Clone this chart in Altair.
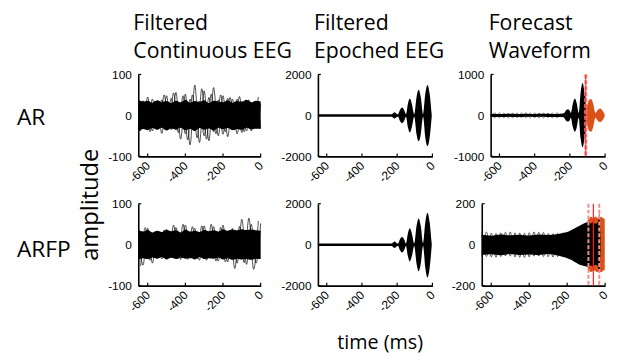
import altair as alt
import pandas as pd

# ---------------- data ----------------
COL_TITLES = [["Filtered", "Continuous EEG"], ["Filtered", "Epoched EEG"], ["Forecast", "Waveform"]]
ROW_LABELS = ["AR", "ARFP"]
Y_LABEL = "amplitude"
X_LABEL = "time (ms)"

X_TICKS = [-600, -400, -200, 0]
Y_TICKS = {"p11": [-100, 0, 100], "p12": [-2000, 0, 2000], "p13": [-1000, 0, 1000],
           "p21": [-100, 0, 100], "p22": [-2000, 0, 2000], "p23": [-200, 0, 200]}

T_CONT = [-650, -625, -600, -575, -550, -525, -500, -475, -450, -425, -400, -375, -350, -325,
          -300, -275, -250, -225, -200, -175, -150, -125, -100, -75, -50, -25, 0]
T_HALF = [-637.5, -612.5, -587.5, -562.5, -537.5, -512.5, -487.5, -462.5, -437.5, -412.5,
          -387.5, -362.5, -337.5, -312.5, -287.5, -262.5, -237.5, -212.5, -187.5, -162.5,
          -137.5, -112.5, -87.5, -62.5, -37.5, -12.5]

# AR continuous: dense band + outlier traces
AR_CONT_UP = [38, 34, 36, 31, 37, 33, 35, 30, 36, 32, 38, 31, 35, 33, 37, 30, 36, 34, 32, 37, 31, 35, 33, 38, 32, 36, 34]
AR_CONT_LO = [-40, -33, -36, -31, -35, -30, -37, -32, -34, -30, -36, -33, -38, -31, -35, -32, -37, -30, -34, -31, -36, -33, -35, -30, -34, -32, -33]
AR_TRACE_A = [22, -28, 45, -38, 30, -44, 48, -35, 56, -58, 52, -72, 74, -66, 60, -62, 68, -50, 48, -52, 40, -45, 35, -38, 30, -33, 28]
AR_TRACE_B = [-38, 30, -40, 35, -26, 50, -30, 55, -42, 48, -60, 50, -55, 65, -58, 52, -45, 50, -40, 44, -36, 46, -40, 38, -30, 45]
AR_TRACE_C = [-30, 36, -25, 40, -34, 38, -28, 42, -36, 30, -45, 40, -38, 35, -50, 44, -40, 38, -46, 42, -35, 40, -42, 36, -38, 33, -30]

# ARFP continuous
FP_CONT_UP = [35, 32, 36, 30, 34, 31, 36, 33, 35, 30, 37, 32, 34, 31, 36, 33, 35, 32, 38, 34, 37, 35, 38, 36, 37, 35, 34]
FP_CONT_LO = [-36, -33, -35, -31, -34, -30, -36, -32, -35, -31, -34, -32, -36, -30, -35, -33, -34, -31, -36, -33, -37, -34, -36, -35, -37, -34, -35]
FP_TRACE_D = [48, -50, 40, -45, 30, -35, 38, -30, 42, -36, 48, -34, 40, -38, 46, -32, 44, -40, 48, -42, 40, -45, 62, -48, 50, -45, 52]
FP_TRACE_E = [-52, 42, -38, 30, -32, 36, -30, 48, -34, 50, -36, 44, -35, 46, -38, 50, -40, 42, -42, 36, -58, 45, -44, 65, -60, 58]

# Epoched EEG envelopes (wave packets)
T_EPO = [-650, -230, -222, -215, -208, -200, -195, -184, -172, -161, -150, -139, -128, -117,
         -103, -90, -78, -66, -53, -40, -28, -16, -4]
AR_EPO_UP = [60, 60, 120, 160, 120, 60, 60, 270, 380, 270, 60, 570, 820, 570, 60, 900, 1250, 900, 60, 1080, 1480, 1080, 60]
AR_EPO_LO = [-60, -60, -120, -160, -120, -60, -60, -270, -370, -270, -60, -580, -840, -580, -60, -920, -1260, -920, -60, -1100, -1500, -1100, -60]
FP_EPO_UP = [60, 60, 120, 160, 120, 60, 60, 270, 370, 270, 60, 560, 800, 560, 60, 920, 1280, 920, 60, 1120, 1560, 1120, 60]
FP_EPO_LO = [-60, -60, -120, -160, -120, -60, -60, -270, -380, -270, -60, -570, -820, -570, -60, -920, -1300, -920, -60, -1150, -1600, -1150, -60]

# AR forecast: black observed part, grey loops, orange forecast
T_AR_FC_OBS = [-650, -600, -550, -500, -450, -400, -350, -300, -250, -235, -225, -211, -200, -195,
               -183, -172, -161, -150, -139, -128, -117, -105]
AR_FC_OBS_UP = [38, 32, 40, 35, 42, 34, 40, 36, 42, 50, 110, 150, 110, 60, 290, 410, 290, 60, 560, 790, 560, 60]
AR_FC_OBS_LO = [-36, -40, -33, -42, -35, -38, -34, -41, -40, -50, -110, -150, -110, -60, -290, -400, -290, -60, -560, -780, -560, -60]
T_LOOPS = [-650, -625, -600, -575, -550, -525, -500, -475, -450, -425, -400, -375, -350, -325, -300, -275, -250]
AR_LOOPS_A = [58, -52, 62, -56, 52, -62, 60, -54, 64, -57, 60, -62, 57, -52, 62, -57, 52]
AR_LOOPS_B = [-55, 60, -58, 54, -63, 56, -52, 62, -56, 60, -54, 58, -62, 55, -58, 60, -50]
T_AR_FC = [-112, -100, -90, -79, -68, -55, -42, -28, -15, -3]
AR_FC_UP = [40, 280, 380, 400, 290, 60, 130, 170, 120, 30]
AR_FC_LO = [-40, -280, -380, -400, -290, -60, -130, -165, -120, -30]

# ARFP forecast
T_FP_FC_OBS = [-650, -600, -550, -500, -450, -400, -350, -300, -250, -220, -200, -180, -160, -140,
               -120, -100, -88, -76, -64, -52, -40, -34, -31, -28, -24]
FP_FC_OBS_UP = [48, 44, 50, 46, 49, 45, 50, 47, 52, 58, 62, 70, 80, 90, 100, 108, 112, 104, 110, 102, 108, 130, 155, 120, 30]
FP_FC_OBS_LO = [-50, -47, -52, -46, -50, -48, -51, -46, -53, -60, -66, -74, -85, -95, -102, -106, -108, -100, -106, -98, -104, -125, -142, -110, -30]
FP_LOOPS_A = [60, -58, 56, -62, 58, -55, 62, -60, 57, -63, 59, -56, 61, -58, 55, -60, 58]
FP_LOOPS_B = [-57, 62, -60, 55, -58, 61, -56, 58, -62, 56, -60, 63, -55, 60, -59, 54, -60]
T_FP_FC = [-92, -82, -72, -62, -52, -42, -32, -22, -12, -2]
FP_FC_UP = [118, 132, 136, 128, 138, 131, 128, 136, 130, 124]
FP_FC_LO = [-116, -130, -133, -126, -128, -134, -130, -135, -128, -122]

# forecast-window markers
AR_RED_SOLID = [-110]
AR_RED_DASHED = [-110]
FP_RED_SOLID = [-62]
FP_RED_DASHED = [-88, -31]

# ---------------- styling ----------------
H = 83
FONT_T = "Open Sans"
FONT_N = "Liberation Sans"
ORANGE = "#D95319"


def env_df(t, up, lo):
    return pd.DataFrame({"t": t, "up": up, "lo": lo})


def trace_df(t, v):
    return pd.DataFrame({"t": t, "v": v})


def panel(key, width, xrange, ydom, yoffset, layers_fn, extra_text=None):
    xs = alt.Scale(domain=[-650, 0], range=xrange, nice=False, zero=False)
    ys = alt.Scale(domain=ydom, nice=False, zero=False)
    xaxis = alt.Axis(values=X_TICKS, labelAngle=315, labelAlign="right", labelBaseline="middle",
                     labelPadding=7, ticks=False, tickSize=0, domainColor="black", domainWidth=1.6,
                     grid=False, title=None, labelFont=FONT_N, labelFontSize=12, labelColor="black",
                     labelFlush=False, labelOverlap=False, labelExpr="'' + datum.value")
    yaxis = alt.Axis(values=Y_TICKS[key], ticks=False, tickSize=0, labelPadding=7, offset=yoffset,
                     domainColor="black", domainWidth=1.6, grid=False, title=None, labelFont=FONT_N,
                     labelFontSize=12, labelColor="black", labelFlush=False, labelOverlap=False,
                     labelExpr="'' + datum.value")

    def X(field):
        return alt.X(field, type="quantitative", scale=xs, axis=xaxis, title=None)

    def Y(field):
        return alt.Y(field, type="quantitative", scale=ys, axis=yaxis, title=None)

    def XD(v):
        return alt.XDatum(v, type="quantitative", scale=xs, axis=xaxis, title=None)

    def YD(v):
        return alt.YDatum(v, type="quantitative", scale=ys, axis=yaxis, title=None)

    layers = layers_fn(X, Y, XD, YD)
    xt = pd.DataFrame({"v": X_TICKS})
    yt = pd.DataFrame({"v": Y_TICKS[key]})
    layers.append(alt.Chart(xt).mark_rule(color="black", strokeWidth=1.2, y2Offset=-3).encode(
        x=X("v"), y=YD(ydom[0]), y2=alt.Y2Datum(ydom[0])))
    layers.append(alt.Chart(yt).mark_rule(color="black", strokeWidth=1.2, x2Offset=3).encode(
        y=Y("v"), x=XD(-650), x2=alt.X2Datum(-650)))
    if extra_text:
        layers.extend(extra_text)
    return alt.layer(*layers).properties(width=width, height=H)


def band(X, Y, df, color="black", interp="monotone", opacity=1.0):
    return alt.Chart(df).mark_area(color=color, interpolate=interp, opacity=opacity).encode(
        x=X("t"), y=Y("up"), y2="lo")


def trace(X, Y, df, color="black", width=0.7):
    return alt.Chart(df).mark_line(color=color, strokeWidth=width, interpolate="monotone").encode(
        x=X("t"), y=Y("v"))


def vlines(X, YD, ts, ydom, color, width, dash=None):
    kw = dict(color=color, strokeWidth=width)
    if dash:
        kw["strokeDash"] = dash
    return alt.Chart(pd.DataFrame({"t": ts})).mark_rule(**kw).encode(
        x=X("t"), y=YD(ydom[1]), y2=alt.Y2Datum(ydom[0]))


def label(text, x, y, size=20, align="left", baseline="alphabetic", angle=0, lh=28):
    kw = dict(text=text, font=FONT_T, fontSize=size, align=align, baseline=baseline, color="black",
              lineHeight=lh)
    if angle:
        kw["angle"] = angle
    return alt.Chart(pd.DataFrame({"a": [0]})).mark_text(**kw).encode(
        x=alt.value(x), y=alt.value(y))


# ---------------- panels ----------------
p11 = panel("p11", 124, [0, 124], [-100, 100], 0, lambda X, Y, XD, YD: [
    band(X, Y, env_df(T_CONT, AR_CONT_UP, AR_CONT_LO)),
    trace(X, Y, trace_df(T_CONT, AR_TRACE_A)),
    trace(X, Y, trace_df(T_HALF, AR_TRACE_B)),
    trace(X, Y, trace_df(T_CONT, AR_TRACE_C)),
], [label(COL_TITLES[0], -5, -45, size=21.5), label(ROW_LABELS[0], -123, 51, size=23)])

p12 = panel("p12", 124, [8, 124], [-2000, 2000], -8, lambda X, Y, XD, YD: [
    band(X, Y, env_df(T_EPO, AR_EPO_UP, AR_EPO_LO)),
], [label(COL_TITLES[1], 4, -45, size=21.5)])

p13 = panel("p13", 125, [9, 125], [-1000, 1000], -9, lambda X, Y, XD, YD: [
    trace(X, Y, trace_df(T_LOOPS, AR_LOOPS_A), color="#666666", width=0.8),
    trace(X, Y, trace_df(T_LOOPS, AR_LOOPS_B), color="#666666", width=0.8),
    band(X, Y, env_df(T_AR_FC_OBS, AR_FC_OBS_UP, AR_FC_OBS_LO)),
    band(X, Y, env_df(T_AR_FC, AR_FC_UP, AR_FC_LO), color=ORANGE),
    vlines(X, YD, AR_RED_DASHED, [-1000, 1000], "#FF8A8A", 3, [4, 2]),
    vlines(X, YD, AR_RED_SOLID, [-1000, 1000], "#FF2020", 1),
], [label(COL_TITLES[2], 7, -45, size=21.5)])

p21 = panel("p21", 124, [0, 124], [-100, 100], 0, lambda X, Y, XD, YD: [
    band(X, Y, env_df(T_CONT, FP_CONT_UP, FP_CONT_LO)),
    trace(X, Y, trace_df(T_CONT, FP_TRACE_D)),
    trace(X, Y, trace_df(T_HALF, FP_TRACE_E)),
], [label(ROW_LABELS[1], -123, 54, size=23),
    label(Y_LABEL, -48, 1, size=24, align="center", baseline="middle", angle=270)])

p22 = panel("p22", 124, [8, 124], [-2000, 2000], -8, lambda X, Y, XD, YD: [
    band(X, Y, env_df(T_EPO, FP_EPO_UP, FP_EPO_LO)),
], [label(X_LABEL, 71, 147, align="center")])

p23 = panel("p23", 125, [0, 125], [-200, 200], 0, lambda X, Y, XD, YD: [
    trace(X, Y, trace_df(T_LOOPS, FP_LOOPS_A), color="#333333", width=0.8),
    trace(X, Y, trace_df(T_LOOPS, FP_LOOPS_B), color="#333333", width=0.8),
    band(X, Y, env_df(T_FP_FC, FP_FC_UP, FP_FC_LO), color=ORANGE),
    band(X, Y, env_df(T_FP_FC_OBS, FP_FC_OBS_UP, FP_FC_OBS_LO)),
    vlines(X, YD, FP_RED_DASHED, [-200, 200], "#FF8A8A", 2, [4, 2]),
    vlines(X, YD, FP_RED_SOLID, [-200, 200], "#FF2020", 1.2),
])

chart = alt.concat(p11, p12, p13, p21, p22, p23, columns=3,
                   spacing={"row": 48, "column": 50}, bounds="flush").properties(
    padding={"left": 9, "top": 3, "right": 5, "bottom": 5},
    background="white",
).configure_view(stroke=None)

chart.save("out.html", embed_options={"renderer": "svg", "actions": False})
